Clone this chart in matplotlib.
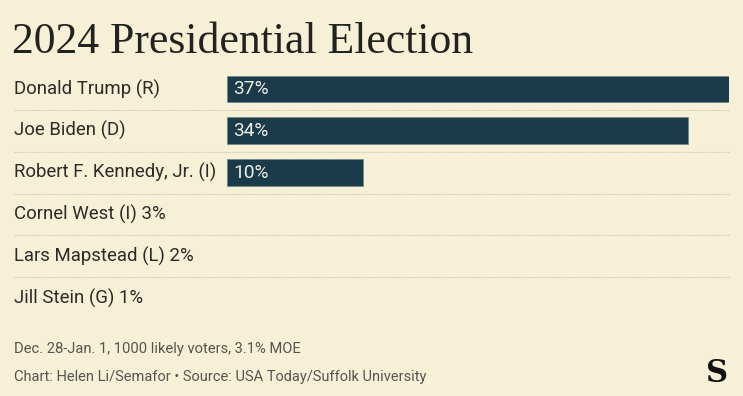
import matplotlib.pyplot as plt

candidates = ['Donald Trump (R)', 'Joe Biden (D)', 'Robert F. Kennedy, Jr. (I)',
              'Cornel West (I)', 'Lars Mapstead (L)', 'Jill Stein (G)']
shares = [37, 34, 10, 3, 2, 1]

bg = '#f6f1d6'
bar_color = '#1b3a4a'
text_color = '#2b2b28'

fig = plt.figure(figsize=(7.43, 3.96), dpi=100, facecolor=bg)

# axes in pixel terms: x from 227 to 729, y rows from 68 to 319
W, H = 743, 396
ax = fig.add_axes([227 / W, 1 - 319 / H, 502 / W, 251 / H])
ax.set_facecolor('none')
ax.set_xlim(0, max(shares))
ax.set_ylim(len(candidates) - 0.5, -0.5)
ax.axis('off')

trans = ax.get_yaxis_transform()
x_left = (14 - 227) / 502

for i, (name, v) in enumerate(zip(candidates, shares)):
    if v >= 5:
        ax.barh(i, v, height=0.64, color=bar_color, edgecolor='#6f8a8a', linewidth=0.6)
        ax.text(0.45, i, f'{v}%', color='#eef0e2', fontsize=13.8, family='Roboto',
                va='center', ha='left')
        label = name
    else:
        label = f'{name} {v}%'
    ax.text(x_left, i, label, transform=trans, color=text_color, fontsize=13.4,
            family='Roboto', va='center', ha='left')
    if i < len(candidates) - 1:
        ax.plot([x_left, 1.002], [i + 0.5, i + 0.5], transform=trans, clip_on=False,
                color='#c8c4ad', linewidth=0.8, linestyle=(0, (1, 1)))

fig.text(12 / W, 1 - 42 / H, '2024 Presidential Election', family='Liberation Serif',
         fontsize=31.5, color='#222220', va='center', ha='left')

fig.text(14 / W, 1 - 349 / H, 'Dec. 28-Jan. 1, 1000 likely voters, 3.1% MOE',
         family='Roboto', fontsize=10.6, color='#555550', va='center', ha='left')
fig.text(14 / W, 1 - 377 / H, 'Chart: Helen Li/Semafor \u2022 Source: USA Today/Suffolk University',
         family='Roboto', fontsize=10.5, color='#555550', va='center', ha='left')
fig.text(717 / W, 1 - 374 / H, 'S', family='DejaVu Serif', fontweight='bold',
         fontsize=22, color='#111111', va='center', ha='center')

fig.savefig('out.png', dpi=100, facecolor=bg)
